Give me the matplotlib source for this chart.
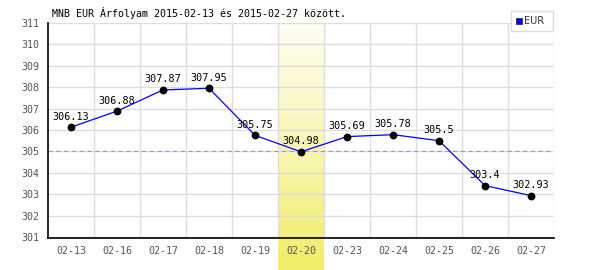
import matplotlib
matplotlib.use("Agg")
import matplotlib.pyplot as plt
import numpy as np
from matplotlib.colors import LinearSegmentedColormap
import matplotlib.transforms as mtransforms
from matplotlib.patches import Rectangle

dates = ["02-13", "02-16", "02-17", "02-18", "02-19", "02-20", "02-23", "02-24", "02-25", "02-26", "02-27"]
values = [306.13, 306.88, 307.87, 307.95, 305.75, 304.98, 305.69, 305.78, 305.5, 303.4, 302.93]
labels = ["306.13", "306.88", "307.87", "307.95", "305.75", "304.98", "305.69", "305.78", "305.5", "303.4", "302.93"]
yticks = [301, 302, 303, 304, 305, 306, 307, 308, 309, 310, 311]
highlight = "02-20"
avg_line = 305
title = "MNB EUR Árfolyam 2015-02-13 és 2015-02-27 között."
series_name = "EUR"

mono = "DejaVu Sans Mono"
fig = plt.figure(figsize=(6, 2.7), dpi=100)
ax = fig.add_axes([48/600, 32/270, 506/600, 215/270])
x = np.arange(len(dates))
ax.set_xlim(-0.5, len(dates) - 0.5)
ax.set_ylim(300.95, 311)

# highlight band with gradient
hi = dates.index(highlight)
trans = mtransforms.blended_transform_factory(ax.transData, ax.transAxes)
cmap = LinearSegmentedColormap.from_list("hl", ["#fefef6", "#f8f6b4", "#f0ee68"])
grad = np.linspace(0, 1, 256).reshape(-1, 1)
ax.imshow(grad, cmap=cmap, aspect="auto", extent=(hi - 0.5, hi + 0.5, -0.149, 1.02),
          origin="upper", transform=trans, clip_on=False, zorder=0)

# grid
for b in np.arange(0.5, len(dates) - 0.5, 1.0):
    ax.axvline(b, color="#dddddd", lw=1, zorder=1)
ax.axvline(len(dates) - 0.5, color="#dddddd", lw=1, zorder=1)
for t in yticks:
    ax.axhline(t, color="#dddddd", lw=1, zorder=1)

ax.axhline(avg_line, color="#9999cc", lw=0.8, ls=(0, (4, 3)), zorder=2)

ax.plot(x, values, color="#0000ff", lw=0.9, zorder=3, label=series_name)
ax.plot(x, values, "o", color="black", ms=4.6, zorder=4)
for xi, v, lab in zip(x, values, labels):
    ax.annotate(lab, (xi, v), xytext=(0, 4), textcoords="offset points", ha="center", va="bottom",
                fontsize=7.3, family=mono, color="black", zorder=5)

for s in ["top", "right"]:
    ax.spines[s].set_visible(False)
ax.spines["left"].set_color("black")
ax.spines["bottom"].set_color("black")
ax.spines["left"].set_linewidth(1.2)
ax.spines["bottom"].set_linewidth(1.2)
ax.set_xticks(x)
ax.set_xticklabels(dates, family=mono, fontsize=7.2, color="#555555")
ax.set_yticks(yticks)
ax.set_yticklabels([str(t) for t in yticks], family=mono, fontsize=7.2, color="#555555")
ax.tick_params(length=0, pad=6)
ax.tick_params(axis="y", pad=6)

fig.text(52/600, 1 - 13/270, title, family=mono, fontsize=7.2, color="black", va="center", ha="left")

# legend box
fig.patches.append(Rectangle((511/600, 1 - 31/270), 42/600, 20/270, transform=fig.transFigure,
                             facecolor="white", edgecolor="#dddddd", lw=1))
fig.patches.append(Rectangle((516/600, 1 - 24/270), 6/600, 6/270, transform=fig.transFigure,
                             facecolor="#0000ff", edgecolor="#333333", lw=0.6))
fig.text(524/600, 1 - 21/270, series_name, fontsize=7, color="#333333", va="center", ha="left")

fig.savefig("out.png", dpi=100)
